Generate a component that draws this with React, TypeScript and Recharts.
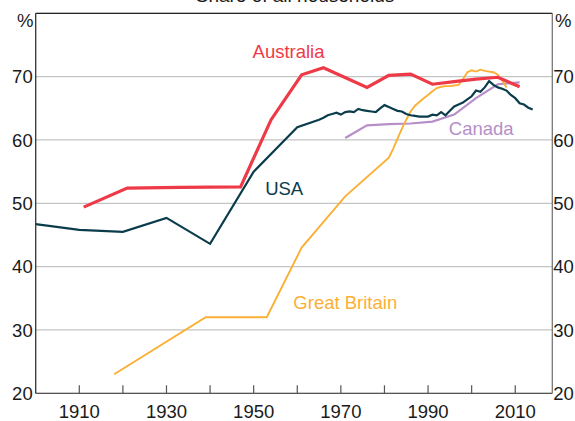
import React from 'react';
import { LineChart, Line, XAxis, YAxis, CartesianGrid, ReferenceLine, ReferenceDot } from 'recharts';

// ---------- data ----------
const ausYears = [1911, 1921, 1933, 1947, 1954, 1961, 1966, 1976, 1981, 1986, 1991, 1996, 2001, 2006, 2011];
const ausValues = [49.4, 52.4, 52.5, 52.6, 63.2, 70.3, 71.4, 68.3, 70.2, 70.4, 68.8, 69.2, 69.6, 69.9, 68.4];

const usaYears = [1900, 1910, 1920, 1930, 1940, 1950, 1960,
  1965, 1966, 1967, 1968, 1969, 1970, 1971, 1972, 1973, 1974, 1975, 1976, 1977, 1978, 1979,
  1980, 1981, 1982, 1983, 1984, 1985, 1986, 1987, 1988, 1989, 1990, 1991, 1992, 1993, 1994,
  1995, 1996, 1997, 1998, 1999, 2000, 2001, 2002, 2003, 2004, 2005, 2006, 2007, 2008, 2009,
  2010, 2011, 2012, 2013, 2014];
const usaValues = [46.7, 45.8, 45.5, 47.7, 43.6, 55.0, 62.0,
  63.2, 63.5, 63.9, 64.1, 64.3, 64.0, 64.4, 64.5, 64.4, 64.9, 64.7, 64.6, 64.5, 64.4, 65.0,
  65.5, 65.2, 64.9, 64.6, 64.5, 64.1, 63.9, 63.8, 63.7, 63.7, 63.7, 64.0, 63.9, 64.4, 63.9,
  64.6, 65.3, 65.6, 65.9, 66.4, 66.9, 67.8, 67.6, 68.3, 69.3, 68.7, 68.3, 68.1, 67.8, 67.1,
  66.6, 65.8, 65.6, 65.1, 64.8];

const gbYears = [1918, 1939, 1953, 1961, 1971, 1981, 1982, 1983, 1984, 1985, 1986, 1987, 1988,
  1989, 1990, 1991, 1992, 1993, 1994, 1995, 1996, 1997, 1998, 1999, 2000, 2001, 2002, 2003,
  2004, 2005, 2006, 2007, 2008];
const gbValues = [23.0, 32.0, 32.0, 43.0, 51.1, 57.2, 58.6, 60.2, 61.8, 63.2, 64.5, 65.4, 66.0,
  66.6, 67.1, 67.7, 68.2, 68.4, 68.5, 68.5, 68.6, 68.7, 69.6, 70.7, 71.0, 70.8, 71.1, 70.9,
  70.8, 70.7, 70.3, 69.4, 68.3];

const canYears = [1971, 1976, 1981, 1986, 1991, 1996, 2001, 2006, 2011];
const canValues = [60.3, 62.3, 62.5, 62.6, 62.9, 64.0, 66.6, 68.8, 69.1];

const xTicks = [1910, 1920, 1930, 1940, 1950, 1960, 1970, 1980, 1990, 2000, 2010];
const xLabelYears = [1910, 1930, 1950, 1970, 1990, 2010];
const yTicks = [20, 30, 40, 50, 60, 70];

const title = 'Share of all households';
const unit = '%';

const seriesLabels = [
  { name: 'Australia', year: 1958, value: 73.0, anchor: 'middle', color: '#ee3a47' },
  { name: 'USA', year: 1957, value: 51.3, anchor: 'middle', color: '#0b3c4c' },
  { name: 'Canada', year: 2002.2, value: 60.8, anchor: 'middle', color: '#b68fc8' },
  { name: 'Great Britain', year: 1959.1, value: 33.3, anchor: 'start', color: '#fbb035' },
];

const toSeries = (years: number[], values: number[]) =>
  years.map((year, i) => ({ year, value: values[i] }));

const ausData = toSeries(ausYears, ausValues);
const usaData = toSeries(usaYears, usaValues);
const gbData = toSeries(gbYears, gbValues);
const canData = toSeries(canYears, canValues);

const FONT = '"Liberation Sans", Arial, sans-serif';
const FS = 18.5;
const TEXT = '#1a1a1a';

const XTick = (props: any) => {
  const { x, y, payload } = props;
  const show = xLabelYears.includes(payload.value);
  return (
    <g>
      <line x1={x} x2={x} y1={y} y2={y - 8} stroke="#555" strokeWidth={1.2} />
      {show && (
        <text x={x} y={y + 25} textAnchor="middle" fontSize={FS} fontFamily={FONT} fill={TEXT}>
          {payload.value}
        </text>
      )}
    </g>
  );
};

const YTickLeft = (props: any) => {
  const { x, y, payload } = props;
  return (
    <text x={x - 3} y={y} dy="0.36em" textAnchor="end" fontSize={FS} fontFamily={FONT} fill={TEXT}>
      {payload.value}
    </text>
  );
};

const YTickRight = (props: any) => {
  const { x, y, payload } = props;
  return (
    <text x={x + 1} y={y} dy="0.36em" textAnchor="start" fontSize={FS} fontFamily={FONT} fill={TEXT}>
      {payload.value}
    </text>
  );
};

const makeLabel = (name: string, anchor: string, color: string) => (props: any) => {
  const vb = props.viewBox || {};
  const cx = (vb.x ?? 0) + (vb.width ?? 0) / 2;
  const cy = (vb.y ?? 0) + (vb.height ?? 0) / 2;
  return (
    <text x={cx} y={cy} textAnchor={anchor as any} fontSize={FS} fontFamily={FONT} fill={color}>
      {name}
    </text>
  );
};

export default function App() {
  return (
    <div style={{ position: 'absolute', left: 0, top: 0, width: 575, height: 421, background: '#fff' }}>
      <LineChart
        width={575}
        height={421}
        margin={{ top: 13.3, right: 0, left: 0, bottom: 0 }}
        style={{ fontFamily: FONT }}
      >
        <CartesianGrid vertical={false} stroke="#c4c4c4" strokeWidth={1.3} />
        <XAxis
          type="number"
          dataKey="year"
          domain={[1900, 2018.5]}
          ticks={xTicks}
          height={27.7}
          tickSize={0}
          tickMargin={0}
          tickLine={false}
          tick={<XTick />}
          axisLine={{ stroke: '#555', strokeWidth: 1.3 }}
          allowDataOverflow
        />
        <YAxis
          type="number"
          domain={[20, 80]}
          ticks={yTicks}
          width={35.7}
          tickSize={0}
          tickMargin={0}
          tickLine={false}
          tick={<YTickLeft />}
          axisLine={{ stroke: '#333', strokeWidth: 1.3 }}
          allowDataOverflow
        />
        <YAxis
          yAxisId="r"
          orientation="right"
          type="number"
          domain={[20, 80]}
          ticks={yTicks}
          width={22.7}
          tickSize={0}
          tickMargin={0}
          tickLine={false}
          tick={<YTickRight />}
          axisLine={{ stroke: '#777', strokeWidth: 1.3 }}
          allowDataOverflow
        />
        <ReferenceLine y={80} stroke="#222" strokeWidth={1.3} ifOverflow="extendDomain" />
        <Line data={canData} dataKey="value" type="linear" stroke="#b68fc8" strokeWidth={2.2} dot={false} isAnimationActive={false} />
        <Line data={gbData} dataKey="value" type="linear" stroke="#fbb035" strokeWidth={1.9} dot={false} isAnimationActive={false} />
        <Line data={usaData} dataKey="value" type="linear" stroke="#0b3c4c" strokeWidth={2.2} dot={false} isAnimationActive={false} />
        <Line data={ausData} dataKey="value" type="linear" stroke="#ee3a47" strokeWidth={3.2} dot={false} isAnimationActive={false} />
        <Line data={ausData} dataKey="value" yAxisId="r" type="linear" stroke="none" dot={false} activeDot={false} legendType="none" isAnimationActive={false} />
        {seriesLabels.map((l) => (
          <ReferenceDot
            key={l.name}
            x={l.year}
            y={l.value}
            r={0}
            fill="none"
            stroke="none"
            label={makeLabel(l.name, l.anchor, l.color)}
          />
        ))}
      </LineChart>
      <div style={{ position: 'absolute', left: 0, width: 590, top: -15.5, textAlign: 'center', fontFamily: FONT, fontSize: 19, color: TEXT, lineHeight: '22px' }}>
        {title}
      </div>
      <div style={{ position: 'absolute', left: 17, top: 11, fontFamily: FONT, fontSize: FS, color: TEXT, lineHeight: '20px' }}>{unit}</div>
      <div style={{ position: 'absolute', left: 555, top: 11, fontFamily: FONT, fontSize: FS, color: TEXT, lineHeight: '20px' }}>{unit}</div>
    </div>
  );
}
